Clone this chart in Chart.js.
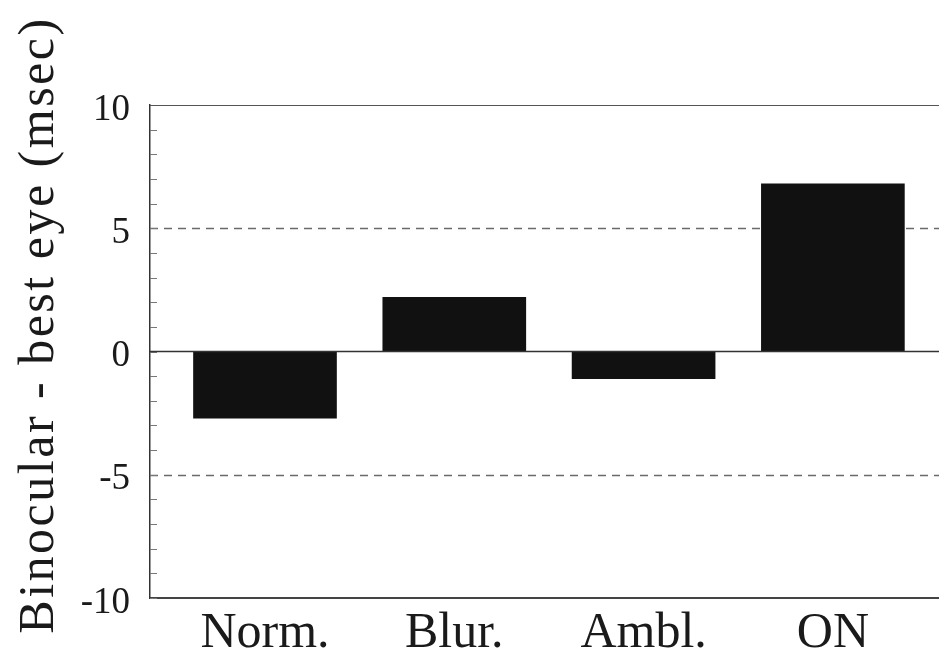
<!DOCTYPE html>
<html>
<head>
<meta charset="utf-8">
<script src="https://cdn.jsdelivr.net/npm/chart.js@4"></script>
<style>
  html, body { margin: 0; padding: 0; background: #fff; overflow: hidden; }
  #wrap { width: 1000px; height: 660px; }
</style>
</head>
<body>
<div id="wrap"><canvas id="chart"></canvas></div>
<script>
// data
const categories = ['Norm.', 'Blur.', 'Ambl.', 'ON'];
const positions = [1, 2, 3, 4];
const values = [-2.7, 2.2, -1.1, 6.8];
const labeledTicks = [10, 5, 0, -5, -10];
const dashedLevels = [5, -5];
const zeroLevel = 0;
const yTitle = 'Binocular - best eye (msec)';

const SERIF = '"Liberation Serif", "DejaVu Serif", serif';

// frame, reference lines, inward minor ticks and the rotated title
const framePlugin = {
  id: 'frame',
  beforeDatasetsDraw(chart) {
    const { ctx, chartArea: a, scales: { y } } = chart;
    ctx.save();
    ctx.strokeStyle = '#6a6a6a';
    ctx.lineWidth = 1.5;
    ctx.setLineDash([8, 6]);
    dashedLevels.forEach((v) => {
      const py = Math.round(y.getPixelForValue(v)) + 0.5;
      ctx.beginPath();
      ctx.moveTo(a.left, py);
      ctx.lineTo(a.right, py);
      ctx.stroke();
    });
    ctx.setLineDash([]);

    // minor ticks pointing into the plot
    ctx.strokeStyle = '#777';
    ctx.lineWidth = 1;
    y.ticks.forEach((t) => {
      const py = Math.round(y.getPixelForValue(t.value)) + 0.5;
      ctx.beginPath();
      ctx.moveTo(a.left, py);
      ctx.lineTo(a.left + 7, py);
      ctx.stroke();
    });
    ctx.restore();
  },
  afterDatasetsDraw(chart) {
    const { ctx, chartArea: a, scales: { y } } = chart;
    ctx.save();
    ctx.strokeStyle = '#333';
    ctx.lineWidth = 1.5;
    const pz = y.getPixelForValue(zeroLevel);
    ctx.beginPath();
    ctx.moveTo(a.left, pz);
    ctx.lineTo(a.right, pz);
    ctx.stroke();

    ctx.strokeStyle = '#555';
    ctx.lineWidth = 1.2;
    ctx.beginPath();
    ctx.moveTo(a.left, a.top + 0.5);
    ctx.lineTo(a.right, a.top + 0.5);
    ctx.stroke();
    ctx.restore();
  },
  afterDraw(chart) {
    const { ctx } = chart;
    ctx.save();
    ctx.translate(53, 325);
    ctx.rotate(-Math.PI / 2);
    ctx.font = 'normal 50px ' + SERIF;
    ctx.letterSpacing = '2.5px';
    ctx.fillStyle = '#1a1a1a';
    ctx.textAlign = 'center';
    ctx.textBaseline = 'alphabetic';
    ctx.fillText(yTitle, 0, 0);
    ctx.restore();
  }
};

new Chart(document.getElementById('chart'), {
  type: 'bar',
  data: {
    datasets: [{
      data: positions.map((x, i) => ({ x: x, y: values[i] })),
      backgroundColor: '#111',
      borderWidth: 0,
      barThickness: 143,
    }]
  },
  options: {
    responsive: true,
    maintainAspectRatio: false,
    animation: false,
    layout: { padding: { top: 105, right: 10, bottom: 0, left: 0 } },
    scales: {
      x: {
        type: 'linear',
        min: 0.3925,
        max: 4.83,
        offset: false,
        grid: { display: false, drawTicks: false },
        border: { display: true, color: '#444', width: 2 },
        afterBuildTicks(scale) {
          scale.ticks = positions.map((v) => ({ value: v }));
        },
        afterFit(scale) { scale.height = 62; },
        ticks: {
          padding: 6,
          color: '#1a1a1a',
          font: { family: SERIF, size: 50 },
          callback: (v) => categories[positions.indexOf(v)] ?? '',
        }
      },
      y: {
        min: -10,
        max: 10,
        grid: { display: false, drawTicks: false },
        border: { display: true, color: '#333', width: 1.5 },
        afterFit(scale) { scale.width = 150; },
        ticks: {
          stepSize: 1,
          autoSkip: false,
          padding: 20,
          labelOffset: 5,
          color: '#1a1a1a',
          font: { family: SERIF, size: 37 },
          callback: (v) => labeledTicks.includes(v) ? String(v) : '',
        }
      }
    },
    plugins: {
      legend: { display: false },
      tooltip: { enabled: false }
    }
  },
  plugins: [framePlugin]
});
</script>
</body>
</html>
